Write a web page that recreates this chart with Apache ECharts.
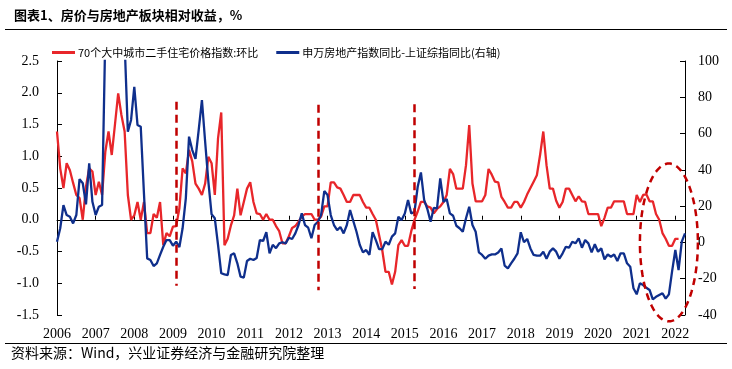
<!DOCTYPE html>
<html><head><meta charset="utf-8">
<script src="https://cdn.jsdelivr.net/npm/echarts/dist/echarts.min.js"></script>
<style>html,body{margin:0;padding:0;background:#fff}#c{width:732px;height:369px}</style>
</head><body><div id="c"></div>
<script>
// ---- categories: monthly, Jan 2006 .. Apr 2022 ----
const startYear = 2006, monthCount = 196;
const months = [];
for (let i = 0; i < monthCount; i++) {
  const y = startYear + Math.floor(i / 12), m = (i % 12) + 1;
  months.push(y + '-' + (m < 10 ? '0' + m : m));
}
const seriesNames = ['70个大中城市二手住宅价格指数:环比', '申万房地产指数同比-上证综指同比(右轴)'];
// left axis (%): 70-city second-hand housing price index, m/m
const priceMoM = [
1.39,0.81,0.50,0.89,0.78,0.58,0.39,0.34,0.00,0.52,
0.81,0.76,0.39,0.60,0.39,1.07,1.39,1.02,1.50,1.99,
1.65,1.39,0.39,0.00,0.07,0.28,0.00,0.28,-0.21,-0.21,
0.09,0.03,0.28,-0.40,-0.21,-0.26,-0.11,-0.10,0.18,0.81,
0.73,1.10,0.92,0.57,0.49,0.39,0.57,0.99,0.89,0.39,
1.28,1.69,-0.40,-0.30,-0.09,0.07,0.49,0.07,0.28,0.49,
0.59,0.28,0.10,0.09,0.00,0.09,0.00,0.00,-0.10,-0.18,
-0.37,-0.37,-0.26,-0.13,-0.10,-0.03,0.05,0.09,0.09,0.09,
0.00,0.00,0.05,0.21,0.21,0.59,0.59,0.51,0.49,0.39,
0.28,0.28,0.39,0.39,0.39,0.28,0.19,0.19,0.09,0.00,
-0.24,-0.48,-0.82,-0.82,-1.02,-0.82,-0.40,-0.32,-0.41,-0.41,
-0.18,0.00,0.13,0.28,0.28,0.21,0.19,0.10,0.17,0.21,
0.28,0.39,0.80,0.72,0.49,0.49,0.49,0.86,1.49,0.57,
0.29,0.29,0.29,0.39,0.80,0.71,0.60,0.59,0.36,0.28,
0.19,0.19,0.28,0.28,0.19,0.28,0.40,0.50,0.60,0.70,
1.02,1.39,0.86,0.49,0.49,0.30,0.19,0.28,0.49,0.49,
0.39,0.29,0.37,0.29,0.28,0.09,0.09,0.09,0.09,-0.10,
0.03,0.19,0.19,0.29,0.29,0.29,0.29,0.09,0.09,0.09,
0.39,0.28,0.39,0.40,0.29,0.29,0.09,0.00,-0.21,-0.30,
-0.41,-0.41,-0.30,-0.30,null,null
];
// right axis (%): SW real estate y/y minus SSE composite y/y
const relReturn = [
0.4,7.8,20.6,15.1,14.2,10.5,15.1,34.9,32.6,21.0,
43.6,22.4,15.1,19.7,20.6,115,135,130,120,125,
115,110,61,67.5,85.8,64.7,63.8,27,-8.8,-9.7,
-13,-11.5,-6.9,-2.4,1.3,1.3,-1.8,0.4,-2.6,7.8,
24.3,58.3,50.9,46,62,78.5,55.5,33.5,15.5,13.3,
-1.3,-17,-17.6,-18,-6.9,-6,-11.5,-18.9,-19.4,-10.2,
-9,-9.7,-8.6,1.3,0.8,5.6,-6,-1.3,-3.2,-0.5,
0.1,-0.5,2.6,1.9,5,9.6,16,9.6,8.1,2.3,
9.6,11.4,15.1,28.3,26.1,15.1,9.6,6.8,8.5,5,
9.6,17.9,11.8,5.9,-1.3,-5.5,-4.2,-6.9,5.6,1.3,
-3.7,-3.7,0.4,-1.3,3.2,5,14.2,12.3,16,23.4,
16,16.9,30.7,38.6,23.4,18.4,11.4,19.1,18.8,35.3,
22.4,23.9,16,14.7,9.2,7.8,5.9,13.3,19.7,9.6,
5.9,-5.5,-6.9,-9,-7.3,-6.6,-6.6,-5.5,-3.3,-12.8,
-14.3,-11.5,-9,-6,5.6,0.1,1.9,-3.3,-6.9,-7.3,
-7.3,-5.1,-9,-5.1,-3.3,-5.1,-9,-6,-2.4,-2.9,
0.4,-0.5,2.3,-2.9,1.3,-0.5,-5.5,-1,-5.1,-3.3,
-9.3,-6.6,-7.9,-6.6,-10.2,-6,-6,-11.5,-13.4,-25.3,
-28.6,-22.5,-23.5,-25,-26.2,-31.4,-30,-29,-28,-31,
-28.6,-15.8,-4.2,-15.2,0.4,5
];
// annotations (data units)
const vMarkMonths = ['2009-02', '2012-10', '2015-04'];
const vMarkTop = [1.86, 1.81, 1.82];
const vMarkBottom = [-1.04, -1.11, -1.09];
const ellipseCenter = ['2021-11', 0];   // month, right-axis value
const ellipseHalfMonths = 8.8, ellipseHalfValue = 43.5;

const titleText = '图表1、房价与房地产板块相对收益，%';
const sourceText = '资料来源：Wind，兴业证券经济与金融研究院整理';

const RED = '#E8262A', BLUE = '#0F2F8C', DRED = '#C00000';
const SERIF = '"Liberation Serif","Times New Roman",serif';
const CJK = '"Noto Sans CJK SC","Noto Sans",sans-serif';
const isJan = (i, v) => String(v).slice(5) === '01';

const chart = echarts.init(document.getElementById('c'), null, {renderer: 'canvas'});
const option = {
  animation: false,
  backgroundColor: '#fff',
  title: {text: titleText, left: 9, top: 4, textStyle: {fontSize: 13, fontWeight: 'bold', color: '#000', fontFamily: CJK}},
  legend: {
    top: 42, left: 47, itemGap: 18, itemWidth: 23, itemHeight: 3, icon: 'rect',
    textStyle: {fontSize: 11, color: '#000', fontFamily: CJK, padding: [0, 0, 0, -2]},
    data: seriesNames
  },
  grid: {left: 57, right: 47, top: 61, bottom: 54, containLabel: false},
  xAxis: [
    {type: 'category', data: months, boundaryGap: false, position: 'bottom',
     axisLine: {show: false}, axisTick: {show: false}, splitLine: {show: false},
     axisLabel: {interval: isJan, formatter: v => v.slice(0, 4), margin: 12,
                 fontSize: 14, color: '#000', fontFamily: SERIF}},
    {type: 'category', data: months, boundaryGap: false, position: 'bottom',
     axisLine: {show: true, onZero: true, onZeroAxisIndex: 0, lineStyle: {color: '#000', width: 1}},
     axisTick: {show: true, inside: true, interval: isJan, length: 4, lineStyle: {color: '#000'}},
     axisLabel: {show: false}, splitLine: {show: false}}
  ],
  yAxis: [
    {type: 'value', min: -1.5, max: 2.5, interval: 0.5, position: 'left',
     axisLine: {show: true, lineStyle: {color: '#000', width: 1}},
     axisTick: {show: true, inside: true, length: 5, lineStyle: {color: '#000'}},
     splitLine: {show: false},
     axisLabel: {formatter: v => v.toFixed(1), margin: 18, fontSize: 14, color: '#000', fontFamily: SERIF}},
    {type: 'value', min: -40, max: 100, interval: 20, position: 'right',
     axisLine: {show: true, lineStyle: {color: '#000', width: 1}},
     axisTick: {show: true, inside: true, length: 5, lineStyle: {color: '#000'}},
     splitLine: {show: false},
     axisLabel: {margin: 13, fontSize: 14, color: '#000', fontFamily: SERIF}}
  ],
  series: [
    {name: seriesNames[0], type: 'line', xAxisIndex: 0, yAxisIndex: 0, data: priceMoM,
     showSymbol: false, symbol: 'none', connectNulls: false,
     lineStyle: {color: RED, width: 2.3}, itemStyle: {color: RED},
     markLine: {silent: true, symbol: ['none', 'none'], label: {show: false},
       lineStyle: {color: DRED, type: [8, 5], width: 2.5},
       data: vMarkMonths.map((m, i) => [{coord: [m, vMarkTop[i]]}, {coord: [m, vMarkBottom[i]]}])}},
    {name: seriesNames[1], type: 'line', xAxisIndex: 0, yAxisIndex: 1, data: relReturn,
     showSymbol: false, symbol: 'none',
     lineStyle: {color: BLUE, width: 2.3}, itemStyle: {color: BLUE}}
  ]
};
chart.setOption(option);

// ellipse annotation, positioned via the chart's own scales
const idx = months.indexOf(ellipseCenter[0]);
const c = chart.convertToPixel({seriesIndex: 1}, [idx, ellipseCenter[1]]);
const ex = chart.convertToPixel({seriesIndex: 1}, [idx + ellipseHalfMonths, ellipseCenter[1]]);
const ey = chart.convertToPixel({seriesIndex: 1}, [idx, ellipseCenter[1] + ellipseHalfValue]);
const rx = Math.abs(ex[0] - c[0]), ry = Math.abs(c[1] - ey[1]);
const pts = [];
for (let k = 0; k < 120; k++) {
  const t = k / 120 * Math.PI * 2;
  pts.push([c[0] + rx * Math.cos(t), c[1] + ry * Math.sin(t)]);
}
chart.setOption({
  graphic: [
    {type: 'line', shape: {x1: 5, y1: 29.5, x2: 727, y2: 29.5}, style: {stroke: '#000', lineWidth: 1.2}, silent: true},
    {type: 'line', shape: {x1: 5, y1: 343.5, x2: 727, y2: 343.5}, style: {stroke: '#000', lineWidth: 1.2}, silent: true},
    {type: 'text', left: 11, top: 346, style: {text: sourceText, fontSize: 14, fill: '#000', fontFamily: CJK}, silent: true},
    {type: 'polygon', shape: {points: pts}, z: 100, silent: true,
     style: {fill: 'none', stroke: DRED, lineWidth: 2.5, lineDash: [7, 5]}}
  ]
});
</script></body></html>
